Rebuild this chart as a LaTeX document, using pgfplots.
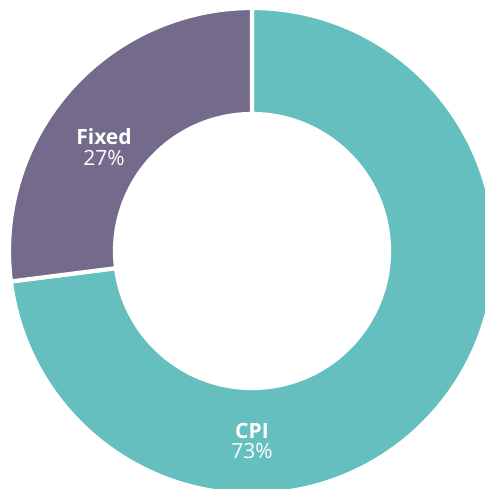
\documentclass[border=0pt]{standalone}
\usepackage{pgfplots}
\pgfplotsset{compat=1.18}
\usepackage{fontspec}
\setmainfont{Open Sans}
\definecolor{cpicol}{HTML}{66BFBF}
\definecolor{fixcol}{HTML}{736A8C}
\begin{document}
\begin{tikzpicture}
\path[use as bounding box] (0,0) rectangle (485pt,489pt);
\def\valCPI{73}
\def\valFixed{27}
\pgfmathsetmacro\angA{90}
\pgfmathsetmacro\angB{90-\valCPI/100*360}
\pgfmathsetmacro\angC{\angB-\valFixed/100*360}
\begin{axis}[
  at={(0,0)}, anchor=south west,
  scale only axis, width=485pt, height=489pt,
  xmin=0, xmax=485, ymin=0, ymax=489,
  hide axis, clip=true,
]
\addplot[draw=none] coordinates {(0,0) (485,489)};
% CPI slice
\filldraw[fill=cpicol, draw=white, line width=4.2pt, line join=miter]
  (axis cs:252,238) ++(\angA:243pt) arc[start angle=\angA, end angle=\angB, radius=243pt]
  -- ([shift={(\angB:137pt)}]axis cs:252,238)
  arc[start angle=\angB, end angle=\angA, radius=137pt] -- cycle;
% Fixed slice
\filldraw[fill=fixcol, draw=white, line width=4.2pt, line join=miter]
  (axis cs:252,238) ++(\angB:243pt) arc[start angle=\angB, end angle=\angC, radius=243pt]
  -- ([shift={(\angC:137pt)}]axis cs:252,238)
  arc[start angle=\angC, end angle=\angB, radius=137pt] -- cycle;
\node[text=white, align=center, font=\fontsize{21}{20.5}\selectfont] at (axis cs:104,342) {\textbf{Fixed}\\\valFixed\%};
\node[text=white, align=center, font=\fontsize{21}{20.5}\selectfont] at (axis cs:252,48) {\textbf{CPI}\\\valCPI\%};
\end{axis}
\end{tikzpicture}
\end{document}
